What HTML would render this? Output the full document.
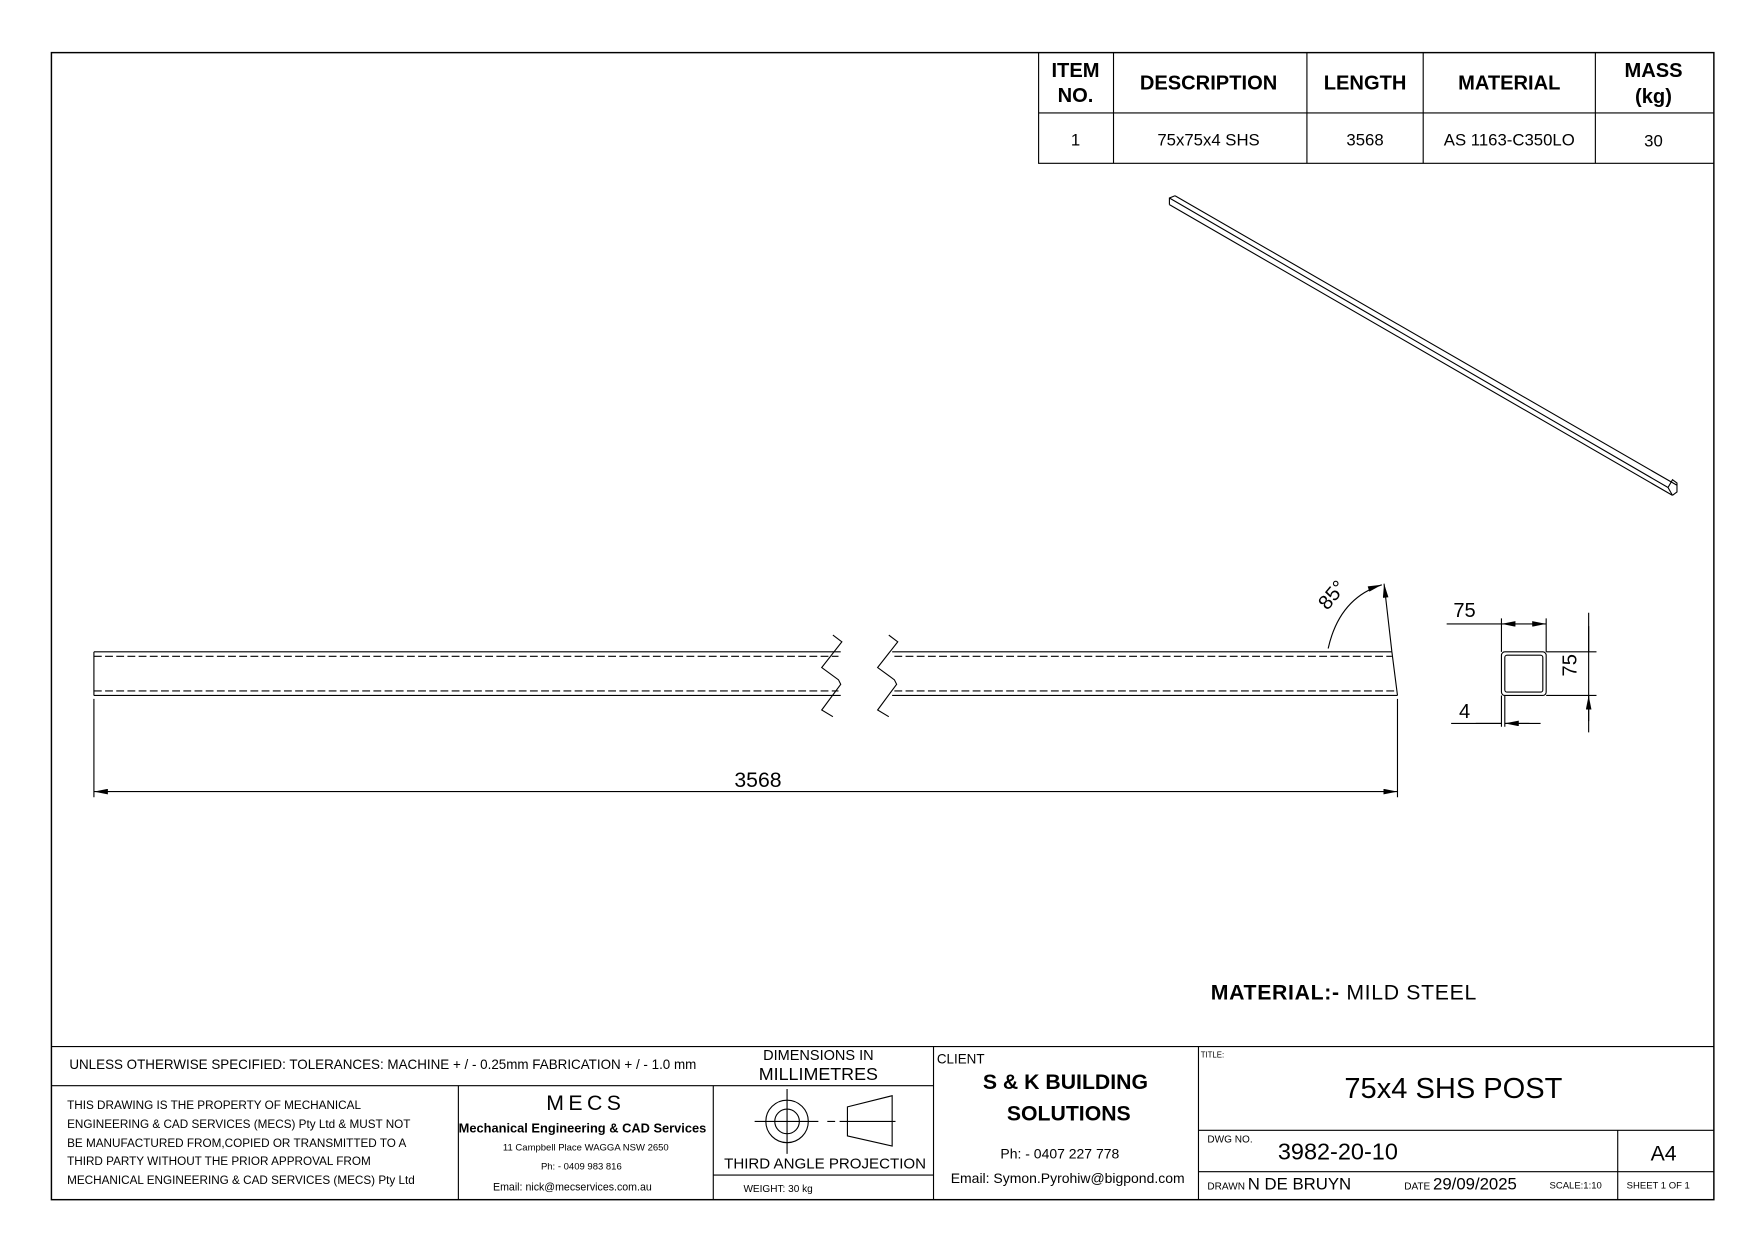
<!DOCTYPE html>
<html><head><meta charset="utf-8"><style>
html,body{margin:0;padding:0;background:#fff}
svg{display:block}
text{font-family:"Liberation Sans",sans-serif;fill:#000}
</style></head><body>
<svg width="1753" height="1240" viewBox="0 0 1568 1109" xmlns="http://www.w3.org/2000/svg">
<defs>
<marker id="ar" viewBox="0 0 10 4" refX="10" refY="2" markerWidth="13" markerHeight="5" markerUnits="userSpaceOnUse" orient="auto-start-reverse"><path d="M0,0L10,2L0,4z" fill="#000"/></marker>
</defs>
<g fill="none" stroke="#000" stroke-width="1">
<rect x="46" y="47" width="1487" height="1026" stroke-width="1.3"/>
<path d="M929 47V146H1533M929 101H1533M996 47V146M1169 47V146M1273 47V146M1427 47V146"/>
<path d="M1046 183L1496 443M1051 175L1500 434M1046 183L1046 177L1051 175M1496 443L1500 440L1500 432L1496 429L1492 436L1496 443M1492 436L1046 177"/>
<path d="M84 583H752M84 622H752M84 583V622M798 583H1245M798 622H1250M1245 583L1250 622"/>
<path d="M84 587H750M84 618H750M800 587H1245M800 618H1249" stroke-dasharray="7,3"/>
<path d="M745 568L753 574L735 597L750 608L752 612L735 635L745 641M795 568L803 574L785 597L800 608L802 612L785 635L795 641"/>
<path d="M1238 522L1245 583M1188 580Q1198 535 1236 523" marker-start="url(#ar)" marker-end="url(#ar)"/>
<path d="M84 625V713M1250 625V713"/>
<path d="M84 708H1250" marker-start="url(#ar)" marker-end="url(#ar)"/>
<rect x="1343" y="583" width="40" height="39" rx="3"/>
<rect x="1346" y="586" width="34" height="33" rx="2"/>
<path d="M1343 583V553M1383 583V553M1294 558H1343M1383 583H1428M1383 622H1428M1343 622V650M1346 622V650M1298 647H1343M1421 548V655M1346 647H1378"/>
<path d="M1343 558H1383" marker-start="url(#ar)" marker-end="url(#ar)"/>
<path d="M1421 560V583M1421 645V622" marker-end="url(#ar)"/>
<path d="M1320 647H1343M1368 647H1346" marker-end="url(#ar)"/>
<path d="M46 936H1533M46 971H835M410 971V1073M638 971V1073M835 936V1073M1072 936V1073M638 1051H835M1072 1011H1533M1072 1048H1533M1447 1011V1073"/>
<circle cx="704" cy="1003" r="19"/><circle cx="704" cy="1003" r="11"/>
<path d="M675 1003H732M704 974V1032M740 1003H747M751 1003H801M758 990L798 980V1025L758 1016Z"/>
</g>
<g font-size="18" font-weight="bold" text-anchor="middle">
<text x="962" y="69">ITEM</text><text x="962" y="91">NO.</text>
<text x="1081" y="80">DESCRIPTION</text><text x="1221" y="80">LENGTH</text>
<text x="1350" y="80">MATERIAL</text>
<text x="1479" y="69">MASS</text><text x="1479" y="92">(kg)</text>
</g>
<g font-size="15" text-anchor="middle">
<text x="962" y="130">1</text><text x="1081" y="130">75x75x4 SHS</text>
<text x="1221" y="130">3568</text><text x="1350" y="130">AS 1163-C350LO</text><text x="1479" y="131">30</text>
</g>
<text x="678" y="704" font-size="19" text-anchor="middle">3568</text>
<text x="1196" y="536" font-size="18" transform="rotate(-50 1196 536)" text-anchor="middle">85°</text>
<text x="1310" y="552" font-size="18" text-anchor="middle">75</text>
<text x="1310" y="642" font-size="18" text-anchor="middle">4</text>
<text x="1417" y="602" font-size="18" text-anchor="middle" transform="rotate(-90 1410 602)">75</text>
<text x="1083" y="894" font-size="19" letter-spacing="0.6"><tspan font-weight="bold">MATERIAL:-</tspan>  MILD STEEL</text>
<text x="62" y="956" font-size="12">UNLESS OTHERWISE SPECIFIED: TOLERANCES: MACHINE + / - 0.25mm  FABRICATION + / - 1.0 mm</text>
<text x="732" y="948" font-size="13" text-anchor="middle">DIMENSIONS IN</text>
<text x="732" y="966" font-size="16" text-anchor="middle">MILLIMETRES</text>
<g font-size="10.5">
<text x="60" y="992">THIS DRAWING IS THE PROPERTY OF MECHANICAL</text>
<text x="60" y="1009">ENGINEERING &amp; CAD SERVICES (MECS) Pty Ltd &amp; MUST NOT</text>
<text x="60" y="1026">BE MANUFACTURED FROM,COPIED OR TRANSMITTED TO A</text>
<text x="60" y="1042">THIRD PARTY WITHOUT THE PRIOR APPROVAL FROM</text>
<text x="60" y="1059">MECHANICAL ENGINEERING &amp; CAD SERVICES (MECS) Pty Ltd</text>
</g>
<g text-anchor="middle">
<text x="524" y="993" font-size="19" letter-spacing="4">MECS</text>
<text x="521" y="1013" font-size="11.5" font-weight="bold">Mechanical Engineering &amp; CAD Services</text>
<text x="524" y="1029" font-size="8.5">11 Campbell Place WAGGA NSW 2650</text>
<text x="520" y="1046" font-size="8.5">Ph: - 0409 983 816</text>
<text x="512" y="1065" font-size="9.5">Email: nick@mecservices.com.au</text>
<text x="738" y="1045" font-size="13.5">THIRD ANGLE PROJECTION</text>
</g>
<text x="665" y="1066" font-size="9">WEIGHT: 30 kg</text>
<text x="838" y="951" font-size="12">CLIENT</text>
<g text-anchor="middle" font-weight="bold" font-size="19">
<text x="953" y="974">S &amp; K  BUILDING</text><text x="956" y="1002">SOLUTIONS</text>
</g>
<text x="948" y="1036" font-size="12.5" text-anchor="middle">Ph: - 0407 227 778</text>
<text x="955" y="1058" font-size="12.5" text-anchor="middle">Email: Symon.Pyrohiw@bigpond.com</text>
<text x="1074" y="946" font-size="7">TITLE:</text>
<text x="1300" y="982" font-size="26" text-anchor="middle">75x4 SHS POST</text>
<text x="1080" y="1022" font-size="9">DWG NO.</text>
<text x="1143" y="1037" font-size="21">3982-20-10</text>
<text x="1488" y="1038" font-size="19" text-anchor="middle">A4</text>
<text x="1080" y="1064" font-size="9">DRAWN <tspan font-size="15">N DE BRUYN</tspan></text>
<text x="1256" y="1064" font-size="9">DATE <tspan font-size="15">29/09/2025</tspan></text>
<text x="1386" y="1063" font-size="8.5">SCALE:1:10</text>
<text x="1455" y="1063" font-size="8.5">SHEET 1 OF 1</text>
</svg>
</body></html>
